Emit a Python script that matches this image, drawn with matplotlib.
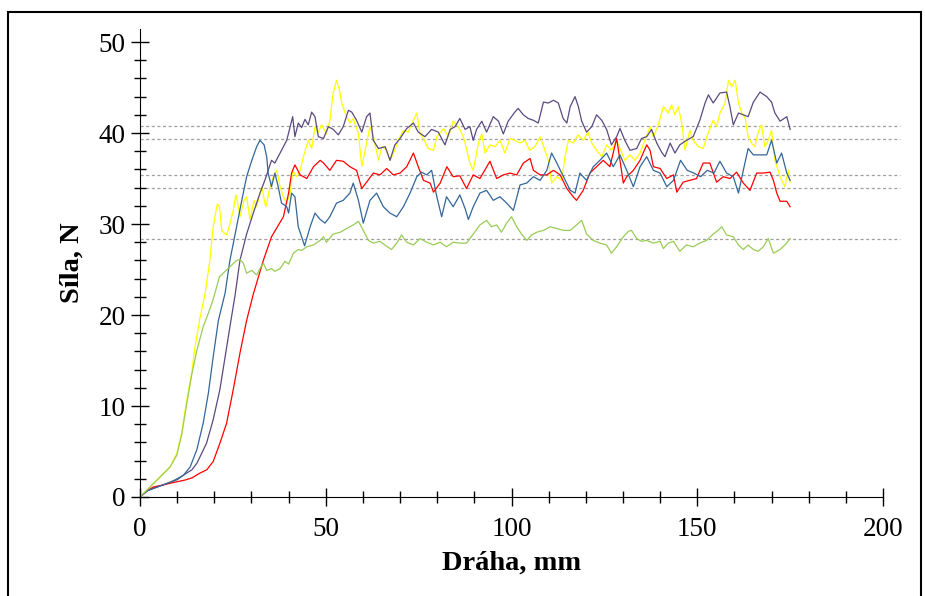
import numpy as np
import matplotlib
matplotlib.use('Agg')
import matplotlib.pyplot as plt
from matplotlib.patches import Rectangle
from matplotlib.ticker import MultipleLocator

# --- zkouška 1 (žlutá) ---
x_zluta = [0, 2.7, 5.4, 8.1, 9.9, 11.2, 12.6, 13.9, 14.8, 16.2, 17.5, 18.8, 19.7, 20.8, 21.4, 22, 22.9,
           23.3, 24, 25.1, 25.8, 26.5, 26.9, 28, 28.7, 29.6, 30.7, 31.4, 32.3, 32.8, 33.6, 33.9, 35, 35.9,
           36.8, 37.7, 38.6, 39.5, 40.4, 41.1, 42.2, 43.1, 44, 45.3, 46.2, 47.1, 48, 48.9, 50.2, 51.1, 52,
           52.9, 53.7, 54.3, 55.2, 56.5, 57.4, 58.8, 59.7, 60.6, 61.9, 62.8, 64.2, 65.1, 66.4, 67.3, 68.6,
           69.5, 70.9, 72.2, 73.6, 74.5, 75.4, 76.3, 77.6, 79, 79.9, 81.7, 83, 84.3, 85.7, 87, 87.5, 88.8,
           89.7, 91.1, 92, 92.9, 94.2, 95.6, 96.9, 98.2, 99.6, 100.9, 102.3, 103.6, 104.9, 106.3, 107.7,
           109, 109.9, 110.8, 112.2, 113.5, 114.4, 115.3, 116.6, 117.9, 119.3, 120.6, 121.6, 122.9, 124.3,
           125.6, 126.9, 128.3, 129.2, 130.5, 131.9, 133.2, 134.6, 135.9, 137.3, 138.2, 139.5, 140.9,
           142.2, 143.1, 144, 144.9, 145.8, 146.7, 148, 148.9, 150.3, 151.6, 153, 154.3, 155.2, 156.1,
           157.5, 158.4, 159.3, 160.2, 161.1, 162, 162.9, 163.7, 164.6, 165.5, 166.4, 167.3, 168.2, 169.1,
           170, 170.9, 172.3, 173.6, 174.5, 175]
y_zluta = [0, 1.1, 2.2, 3.3, 4.8, 7.0, 10.7, 13.6, 16.5, 19.8, 22.3, 26.0, 29.7, 32.2, 31.9, 29.3, 28.9,
           28.8, 29.7, 31.5, 33.2, 31.9, 30.8, 32.6, 33.0, 30.5, 32.6, 31.9, 33.4, 34.1, 32.3, 31.9, 34.1,
           35.2, 35.9, 34.1, 33.0, 32.3, 33.4, 35.9, 35.2, 35.9, 37.4, 39.2, 38.3, 40.7, 40.1, 40.9, 39.9,
           41.4, 44.4, 45.8, 44.7, 43.3, 42.2, 41.1, 41.6, 39.9, 36.3, 38.1, 40.7, 39.6, 37.0, 38.5, 38.1,
           37.0, 38.1, 39.2, 40.3, 40.1, 41.4, 42.2, 39.9, 39.4, 38.3, 38.1, 39.6, 40.5, 39.6, 41.3, 40.7,
           39.6, 38.9, 36.7, 35.9, 38.9, 39.9, 37.8, 38.7, 38.5, 39.2, 37.8, 39.4, 39.2, 38.9, 39.2, 38.1,
           38.5, 39.6, 38.1, 37.0, 34.5, 35.2, 34.8, 37.4, 39.2, 38.9, 39.8, 39.2, 40.1, 38.9, 38.1, 37.4,
           38.7, 38.1, 39.2, 38.3, 37.0, 37.6, 37.0, 37.8, 39.2, 40.7, 39.6, 40.9, 42.9, 42.2, 43.1, 42.0,
           42.9, 41.1, 38.1, 40.3, 39.2, 38.5, 38.3, 40.1, 41.4, 40.7, 42.2, 43.3, 45.8, 45.1, 45.8, 43.3,
           42.2, 41.6, 39.6, 38.9, 38.5, 40.1, 40.9, 38.5, 39.2, 40.3, 37.0, 35.2, 34.1, 35.9, 34.6]

# --- zkouška 2 (fialová) ---
x_fialova = [0, 2, 4, 6, 8, 10, 11.7, 14, 15.3, 17.9, 19.7, 21.5, 22.9, 24.2, 25.6, 26.9, 28.7, 30.5,
             32.3, 33.6, 35.4, 36.3, 37.2, 38.6, 39.5, 41.1, 41.7, 42.6, 43.5, 44.4, 45.3, 46.2, 47.1, 48,
             49.4, 50.7, 52, 53.4, 54.7, 56.1, 57, 58.3, 59.7, 61, 61.9, 62.8, 64.2, 66, 67.3, 68.6, 70,
             71.8, 73.6, 74.9, 76.7, 78.5, 80.3, 82.1, 83.5, 84.8, 86.1, 87.5, 88.8, 89.7, 90.6, 92, 93.3,
             95.1, 96.5, 97.8, 99.1, 100.9, 101.8, 103.2, 104.5, 105.9, 107.2, 108.6, 109.9, 111.3, 112.6,
             113.9, 114.9, 115.8, 117.1, 118, 118.9, 120.2, 121.6, 122.9, 124.3, 125.6, 126.9, 128.3, 129.2,
             130.5, 131.9, 133.7, 135, 136.4, 137.7, 139.1, 140.4, 141.3, 142.7, 144, 145.3, 147.1, 148.9,
             150.7, 152.1, 153, 154.3, 156.1, 157.9, 158.8, 159.7, 161.1, 162.4, 163.7, 165.1, 166.9, 168.7,
             170, 170.9, 172.3, 174.1, 175]
y_fialova = [0, 0.7, 1.0, 1.3, 1.6, 1.9, 2.4, 3.0, 3.7, 5.9, 8.5, 11.8, 15.4, 18.7, 22.2, 26.0, 28.9, 31.2,
             33.4, 34.8, 37.0, 36.7, 37.4, 38.5, 39.2, 41.8, 39.6, 41.1, 40.6, 41.5, 40.9, 42.3, 41.8, 39.6,
             39.4, 40.7, 40.4, 39.8, 40.7, 42.5, 42.3, 41.4, 40.1, 41.8, 42.2, 39.2, 38.3, 38.5, 37.0, 38.7,
             39.4, 40.5, 41.1, 40.1, 39.6, 40.4, 40.1, 38.7, 40.4, 40.7, 41.6, 40.4, 40.7, 39.2, 40.4, 41.3,
             40.1, 41.8, 41.3, 39.9, 41.3, 42.3, 42.7, 42.0, 41.6, 41.4, 41.1, 43.4, 43.3, 43.6, 43.3, 41.6,
             41.1, 42.9, 44.0, 42.9, 41.3, 40.1, 40.7, 42.0, 41.4, 40.4, 38.7, 39.6, 40.5, 39.2, 38.1, 38.3,
             39.4, 39.6, 40.4, 38.9, 37.9, 37.4, 38.9, 37.8, 38.7, 39.2, 39.6, 41.4, 43.3, 44.2, 43.3, 44.4,
             44.5, 42.9, 40.9, 42.2, 42.0, 41.8, 43.4, 44.5, 44.0, 43.4, 42.2, 41.3, 41.8, 40.4]

# --- zkouška 3 (červená) ---
x_cervena = [0, 2, 3.6, 6, 8, 10, 12, 14, 16, 18, 19.7, 21.5, 23.3, 25.1, 26.9, 28.7, 30.5, 33.2, 35.4,
             38.6, 40, 40.8, 41.7, 43.1, 44.9, 46.7, 48.5, 49.4, 51.1, 52.9, 54.7, 56.5, 58.3, 59.7, 61,
             62.8, 64.6, 66.4, 68.2, 70, 71.8, 73.6, 74.9, 76.3, 78.1, 79, 80.8, 82.6, 84.3, 86.1, 87.9,
             89.7, 91.5, 94.2, 96, 97.8, 99.6, 101.4, 103.2, 105, 105.9, 107.7, 109.5, 111.3, 113.1, 114.9,
             116.6, 117.5, 119.3, 121.1, 122.9, 124.7, 126.5, 128.3, 129.2, 130.1, 131, 132.8, 134.6, 136.4,
             137.3, 138.2, 140, 141.8, 143.6, 144.5, 146.2, 148, 149.8, 151.6, 153.4, 155.2, 157, 158.8,
             160.6, 162.4, 164.2, 166, 167.8, 169.6, 170.5, 171.4, 172.3, 174.1, 175]
y_cervena = [0, 0.7, 1.1, 1.3, 1.5, 1.68, 1.85, 2.1, 2.6, 3.0, 3.9, 5.9, 8.1, 11.8, 15.8, 19.4, 22.3, 26.0,
             28.6, 30.8, 33.4, 35.6, 36.5, 35.4, 35.0, 36.3, 37.0, 36.7, 35.9, 37.0, 36.9, 36.3, 35.9, 33.9,
             34.6, 35.6, 35.4, 36.1, 35.4, 35.6, 36.3, 37.8, 36.3, 34.8, 34.5, 33.5, 34.5, 36.3, 35.2, 35.3,
             33.9, 35.4, 35.0, 36.9, 35.0, 35.4, 35.6, 35.4, 36.7, 37.2, 35.9, 35.4, 35.4, 35.9, 35.4, 33.9,
             33.0, 32.6, 33.7, 35.6, 36.3, 37.0, 36.3, 39.4, 37.0, 34.5, 35.2, 35.9, 37.0, 38.7, 38.1, 36.3,
             36.1, 35.0, 35.4, 33.5, 34.6, 34.8, 35.0, 36.7, 36.7, 34.6, 35.2, 35.0, 35.7, 34.5, 33.7, 35.6,
             35.6, 35.7, 34.8, 33.4, 32.5, 32.5, 31.9]

# --- zkouška 4 (modrá) ---
x_modra = [0, 2, 4, 6, 8, 10, 11.7, 13.5, 15.3, 17, 18.4, 19.7, 21.1, 22.9, 24.2, 26, 27.4, 28.7, 30.1,
           31.4, 32.3, 33.4, 34.1, 34.5, 35.4, 36.3, 37.2, 38.1, 39.5, 40, 40.8, 41.7, 42.6, 43.5, 44.3,
           45.8, 47.1, 48.5, 49.8, 51.1, 52.9, 54.7, 56.5, 57.4, 58.8, 60.1, 61.9, 63.7, 65.5, 67.3, 69.1,
           70.9, 72.7, 74.5, 75.8, 77.2, 78.5, 79.9, 81.2, 82.5, 84.3, 86.1, 87.5, 88.4, 89.7, 91.5, 93.3,
           95.1, 96.9, 98.7, 100.5, 102.3, 104.1, 105.9, 107.7, 109.5, 110.8, 112.2, 114, 115.8, 117.1,
           118.4, 120.2, 122, 123.8, 125.6, 127.4, 129.2, 131, 132.8, 134.6, 136.4, 138.2, 140, 141.8,
           143.6, 145.5, 147.3, 149.1, 150.9, 152.7, 154.5, 156.1, 157.9, 159.7, 161.1, 162.4, 163.7,
           165.1, 166.9, 168.7, 170, 171.4, 172.7, 174.1, 175]
y_modra = [0, 0.7, 1.0, 1.3, 1.6, 2.0, 2.4, 3.3, 5.2, 8.1, 11.4, 15.4, 19.4, 22.4, 26.0, 29.7, 32.6, 35.2,
           37.0, 38.5, 39.2, 38.7, 37.4, 35.6, 34.1, 35.6, 34.1, 32.3, 31.9, 31.2, 33.4, 33.0, 29.7, 28.6,
           27.6, 29.7, 31.2, 30.5, 30.1, 30.8, 32.3, 32.6, 33.4, 34.5, 32.6, 30.1, 32.6, 33.4, 31.9, 31.2,
           30.8, 31.9, 33.4, 35.2, 35.7, 35.4, 35.9, 33.0, 30.8, 33.0, 31.9, 33.2, 31.7, 30.5, 31.9, 33.4,
           33.7, 32.6, 33.0, 32.3, 31.5, 34.3, 34.5, 35.2, 34.8, 35.9, 37.8, 36.7, 35.2, 33.7, 33.4, 35.6,
           34.8, 36.3, 37.0, 37.8, 36.3, 37.6, 35.9, 34.1, 36.3, 37.4, 35.9, 35.6, 34.1, 34.8, 37.0, 35.9,
           35.6, 35.2, 35.9, 35.6, 36.9, 35.6, 35.2, 33.4, 35.9, 38.3, 37.6, 37.6, 37.6, 39.2, 36.7, 37.8,
           35.6, 34.8]

# --- zkouška 5 (zelená) ---
x_zelena = [0, 2.7, 5.4, 8.1, 9.9, 11.2, 12.6, 13.9, 15.3, 17, 18.4, 19.6, 21.4, 22.4, 24.2, 26, 26.9,
            27.8, 28.7, 30.1, 31.4, 32.3, 33.2, 34.1, 35.4, 36.3, 37.7, 39, 40, 41.3, 42.6, 43.5, 44.9,
            46.7, 48.5, 49.4, 50.2, 52, 53.9, 55.6, 57.4, 58.8, 60.1, 61.5, 62.8, 64.6, 65.9, 67.7, 69.1,
            70.4, 71.8, 73.6, 75.4, 77.2, 79, 80.8, 82.5, 84.3, 86.1, 87.9, 89.7, 91.5, 93.3, 94.6, 96,
            97.3, 98.7, 100, 101.4, 102.7, 104.1, 105.4, 106.8, 108.6, 110.4, 112.2, 114, 115.8, 117.5,
            118.9, 120.2, 122, 123.8, 125.6, 126.9, 128.3, 130.1, 131.5, 132.3, 133.7, 135, 136.4, 138.2,
            140, 140.9, 142.2, 143.6, 145.3, 147.1, 148.9, 150.7, 152.5, 154.3, 155.6, 156.6, 157.9,
            159.7, 161.1, 162.4, 163.7, 165.1, 166.4, 167.8, 169.1, 170.5, 172.3, 173.6, 175]
y_zelena = [0, 1.1, 2.2, 3.3, 4.6, 6.8, 10.3, 13.4, 16.1, 18.7, 20.2, 21.6, 24.2, 24.6, 25.3, 26.0, 26.1,
            25.7, 24.6, 24.9, 24.4, 25.1, 25.7, 24.9, 25.1, 24.8, 25.1, 25.9, 25.6, 26.8, 27.2, 27.1, 27.5,
            27.7, 28.2, 28.6, 28.0, 28.9, 29.1, 29.5, 29.9, 30.3, 29.3, 28.2, 27.9, 28.1, 27.7, 27.2, 27.9,
            28.8, 28.0, 27.7, 28.4, 28.0, 27.7, 28.0, 27.5, 28.0, 27.9, 27.9, 28.9, 29.9, 30.4, 29.7, 29.9,
            29.1, 30.1, 30.8, 29.7, 28.9, 28.2, 28.8, 29.1, 29.3, 29.7, 29.5, 29.3, 29.3, 29.9, 30.4, 28.9,
            28.2, 27.9, 27.7, 26.8, 27.5, 28.6, 29.2, 29.3, 28.4, 28.1, 28.2, 27.9, 28.1, 27.3, 27.9, 28.1,
            27.0, 27.7, 27.5, 27.9, 28.2, 28.9, 29.3, 29.7, 28.8, 28.6, 27.7, 27.2, 27.7, 27.2, 27.0, 27.5,
            28.4, 26.8, 27.2, 27.7, 28.4]

# průměrné hodnoty ustálené síly (tečkované čáry)
prumery = [40.8, 39.3, 35.4, 34.0, 28.3]

serie = [
    (x_zluta, y_zluta, '#ffff00'),
    (x_fialova, y_fialova, '#5a4a80'),
    (x_cervena, y_cervena, '#ff0000'),
    (x_modra, y_modra, '#336699'),
    (x_zelena, y_zelena, '#99cc55'),
]

plt.rcParams['font.family'] = ['Liberation Serif', 'DejaVu Serif']

fig = plt.figure(figsize=(9.25, 5.96), dpi=100)
ax = fig.add_axes([140 / 925, 1 - 497 / 596, 743 / 925, 467.7 / 596])

for p in prumery:
    ax.plot([0, 204.5], [p, p], color='#a0a0a0', lw=0.9, ls=(0, (2.5, 2)), clip_on=False, zorder=1)

for x, y, c in serie:
    ax.plot(x, y, color=c, lw=0.9, zorder=2)

ax.set_xlim(0, 200)
ax.set_ylim(0, 51.4)
ax.spines['top'].set_visible(False)
ax.spines['right'].set_visible(False)
ax.xaxis.set_major_locator(MultipleLocator(50))
ax.xaxis.set_minor_locator(MultipleLocator(10))
ax.yaxis.set_major_locator(MultipleLocator(10))
ax.yaxis.set_minor_locator(MultipleLocator(2))
ax.tick_params(which='major', direction='inout', length=13, width=1, labelsize=19.5, pad=4)
ax.tick_params(which='minor', direction='inout', length=9, width=1)
ax.tick_params(axis='x', pad=8)

ax.set_xlabel('Dráha, mm', fontsize=20.5, fontweight='bold', labelpad=6)
ax.set_ylabel('Síla, N', fontsize=20.5, fontweight='bold', labelpad=10)

# rámeček kolem obrázku
fig.patches.append(Rectangle((8 / 925, -0.05), 913 / 925, 1.05 - 12 / 596, transform=fig.transFigure,
                             fill=False, edgecolor='black', lw=1.5))

fig.savefig('out.png', dpi=100)
